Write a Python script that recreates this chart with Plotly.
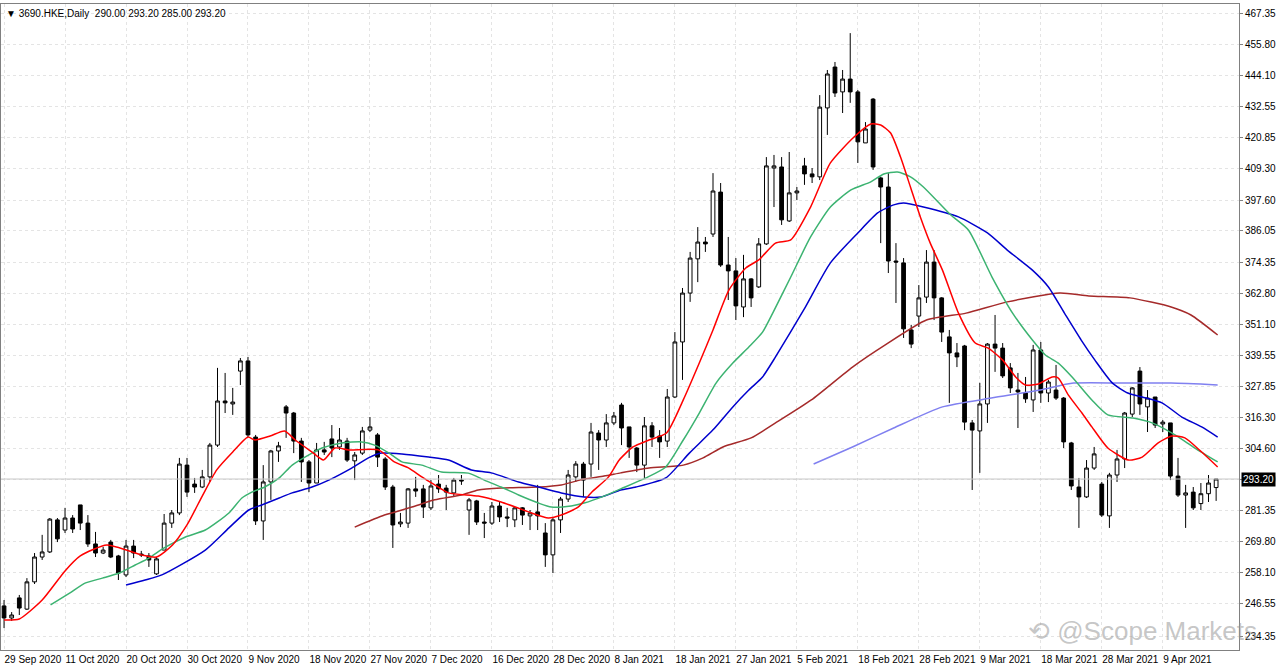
import plotly.graph_objects as go

# ---- OHLC data, bar index 0..159 ----
opens = [245.7,241.2,248.7,244.5,254.7,264.0,265.9,277.9,274.1,278.6,283.5,276.7,268.9,265.5,269.6,264.4,257.3,268.1,265.1,264.4,
         257.7,266.6,276.7,280.5,298.4,291.3,290.2,294.0,305.9,322.4,321.3,333.6,337.4,308.9,277.5,292.1,303.7,320.2,317.9,307.4,
         299.6,291.7,304.1,308.2,305.2,307.4,300.0,302.9,311.5,309.7,300.7,290.2,276.4,276.7,289.5,289.5,282.4,291.3,289.8,288.0,
         292.8,281.6,285.0,277.1,276.7,283.1,279.0,277.9,282.4,279.4,280.9,273.0,264.8,277.9,285.7,294.0,298.8,298.8,310.4,307.8,
         314.2,320.9,312.7,304.8,298.4,313.1,309.3,307.4,323.9,344.5,362.8,375.6,381.9,384.9,400.6,373.3,371.1,357.6,368.1,365.1,
         381.2,409.6,410.0,389.8,400.3,410.4,407.4,406.3,432.1,447.4,438.1,442.9,438.1,419.0,435.4,405.9,402.5,374.8,374.1,349.0,
         354.2,361.3,374.4,361.0,346.4,340.4,343.0,314.2,311.2,321.3,343.7,342.2,334.8,326.5,325.4,322.8,341.5,325.4,326.5,323.5,
         306.7,290.2,286.5,297.3,291.3,279.4,294.7,300.7,317.5,333.6,320.2,323.9,313.8,314.2,294.3,287.2,288.3,284.0,287.7,290.0]
highs = [247.9,243.4,249.8,256.1,265.5,272.3,278.6,278.6,282.4,279.7,283.5,279.7,273.4,267.8,270.4,264.8,270.4,270.4,266.3,265.5,
         264.0,280.1,281.6,301.1,301.1,293.6,296.6,306.7,334.8,332.9,327.3,338.5,338.9,309.7,298.4,304.1,307.1,320.9,318.3,308.6,
         300.3,306.7,307.1,313.4,312.3,308.6,303.3,312.7,316.4,310.4,301.4,291.0,280.5,289.8,294.0,291.0,292.8,294.7,291.0,293.6,
         294.7,286.1,285.4,280.5,284.6,284.6,282.4,282.7,282.7,281.6,291.0,276.7,278.6,286.5,296.6,299.9,299.6,314.2,311.5,317.5,
         318.3,321.7,312.7,305.2,316.4,314.5,311.5,326.9,348.2,364.7,378.2,387.5,383.8,407.7,404.0,383.8,375.9,377.1,368.4,383.4,
         413.7,414.5,413.7,415.6,402.5,413.4,409.6,436.9,446.3,449.3,446.3,460.1,438.8,426.8,435.8,406.3,407.7,381.5,375.9,350.9,
         365.8,378.9,378.9,361.3,349.0,344.1,343.4,315.3,329.2,344.1,354.6,344.1,336.6,332.9,331.4,343.4,344.5,330.3,335.9,323.9,
         307.1,293.6,300.3,305.2,292.1,295.5,304.1,318.3,327.6,335.1,326.5,323.9,315.3,314.2,301.1,291.0,290.2,291.7,294.7,293.2]
lows = [237.4,240.1,242.3,244.2,253.9,262.9,265.5,269.6,273.0,273.0,274.1,267.8,264.0,265.1,263.6,255.4,256.5,263.6,264.0,260.3,
        257.3,266.6,274.9,279.7,286.5,288.0,289.8,292.1,305.2,317.9,317.2,328.4,308.9,276.0,270.4,285.4,299.6,308.6,302.9,292.1,
        288.3,291.7,302.2,301.4,304.1,299.6,292.8,302.2,310.8,297.7,289.1,267.4,275.2,274.9,286.5,278.6,281.6,288.0,281.6,286.5,
        291.0,272.3,276.0,271.1,276.0,277.1,275.2,275.2,276.0,274.1,274.1,260.3,258.0,273.0,284.6,292.1,286.5,294.0,296.6,305.2,
        313.4,305.9,301.1,295.8,293.6,305.2,301.1,305.2,323.5,330.3,359.5,366.9,378.2,383.8,372.6,360.2,352.7,353.8,357.6,364.7,
        380.8,395.0,388.3,389.4,397.6,403.3,404.0,405.1,422.0,436.2,430.2,434.0,411.5,419.0,408.9,381.5,370.3,359.1,346.0,342.2,
        350.1,359.1,352.7,344.5,321.7,335.1,311.5,289.1,295.5,314.2,333.3,331.0,325.4,312.3,321.7,318.3,321.7,322.0,322.8,304.8,
        289.1,274.9,286.1,296.6,279.0,274.9,292.1,297.3,316.4,317.2,310.8,312.3,310.8,292.8,286.5,274.9,281.6,281.6,284.6,285.0]
closes = [241.2,242.3,244.9,254.7,264.0,265.9,278.2,270.8,278.6,274.5,276.7,268.9,265.5,266.6,264.0,258.0,268.1,265.5,264.8,262.9,
          263.3,276.7,280.5,298.8,288.3,290.2,294.0,305.9,322.4,321.7,322.0,337.4,309.7,277.5,292.1,303.7,305.6,317.9,307.4,299.6,
          291.7,304.1,303.3,304.8,307.8,300.3,302.2,311.2,312.7,301.4,290.2,276.0,277.1,289.5,288.7,282.7,290.6,289.5,288.3,292.8,
          292.5,285.4,277.1,276.7,283.1,279.0,278.6,282.4,279.7,280.5,279.4,264.8,277.9,285.7,294.7,298.8,292.8,310.8,307.8,314.2,
          316.8,312.3,305.2,298.4,313.1,308.9,307.1,323.9,344.5,362.8,375.9,381.9,381.2,401.0,373.3,371.1,358.0,368.1,361.0,381.2,
          410.4,410.4,390.2,400.3,401.0,407.4,406.3,432.4,444.8,437.7,442.9,438.1,419.4,424.2,410.0,402.5,374.8,374.4,349.4,343.7,
          361.0,374.4,361.0,348.2,340.4,338.9,314.5,311.5,321.3,343.7,342.2,331.8,327.3,325.8,323.2,341.5,325.4,329.5,323.5,307.1,
          290.6,286.5,297.3,302.6,279.7,294.7,300.7,317.9,327.3,321.3,323.5,313.4,314.5,294.3,287.2,288.0,282.4,287.7,291.7,293.2]

# ---- moving averages: bar position, price ----
red_x = [0,2.0,5.0,8.0,10.0,13.5,18.0,20.0,22.1,24.0,26.0,27.9,30.0,32.0,32.9,34.9,36.8,38.2,40.4,41.9,43.4,45.2,49.1,51.2,53.1,54.8,
         56.5,58.3,62.2,65.2,68.8,71.4,73.1,75.3,77.0,79.3,80.7,82.5,84.6,86.9,89.1,91.2,93.0,95.1,97.3,99.0,101.2,103.2,105.8,108.4,
         111.5,113.7,115.0,116.3,117.6,118.9,120.2,121.5,123.1,125.2,127.4,129.1,131.0,132.7,134.0,135.7,137.5,138.3,139.6,141.4,
         142.7,144.8,147.5,149.3,151.4,153.2,154.9,157.1,159.2]
red_y = [240.4,240.8,247.9,258.8,264.4,268.5,264.8,264.0,268.5,276.0,286.8,296.6,303.3,308.9,307.8,309.3,311.2,307.8,303.3,300.3,304.8,
         304.1,304.1,299.6,297.3,294.0,291.0,288.0,286.8,284.6,280.9,278.6,279.7,282.7,288.0,294.0,300.3,305.2,307.8,310.4,322.8,336.6,
         349.0,364.0,372.2,375.2,381.5,382.7,395.0,411.5,421.2,426.1,425.7,422.7,413.7,402.5,391.3,381.5,371.4,355.3,344.1,342.2,337.7,
         331.4,328.4,328.8,331.4,331.0,324.7,317.9,312.7,304.8,300.3,301.4,306.7,309.3,308.6,303.3,297.7]
green_x = [6.1,8.6,10.7,12.9,15.1,17.2,19.0,21.0,23.8,26.4,29.5,31.2,32.5,34.2,36.1,37.8,40.4,41.7,44.3,46.9,48.6,50.5,52.2,54.8,57.4,
           60.9,63.0,65.2,67.5,70.1,71.8,74.4,76.1,78.7,80.9,84.2,86.8,89.1,91.2,93.4,95.6,97.7,99.5,100.9,103.2,105.8,108.4,111.1,
           113.7,115.4,117.2,118.9,120.6,124.2,126.5,129.6,132.3,134.9,136.6,138.3,140.1,142.7,144.8,148.1,150.6,153.6,156.2,159.2]
green_y = [246.1,250.5,254.3,256.1,258.0,261.0,263.6,267.4,271.5,274.1,280.5,286.1,288.3,290.2,293.6,298.4,302.9,304.8,306.7,307.1,305.9,
           302.9,299.6,298.4,295.8,295.4,292.8,290.2,287.2,284.2,282.7,283.1,284.2,286.8,289.5,293.6,297.7,307.8,317.9,329.1,336.6,342.6,
           348.2,355.7,368.8,383.8,395.0,401.4,404.4,407.4,408.1,406.3,402.5,392.0,386.4,368.8,355.3,345.2,339.6,336.6,331.4,322.8,317.2,
           316.0,314.2,309.7,304.8,299.6]
blue_x = [16.0,18.5,20.7,26.4,29.5,32.1,33.8,36.1,37.8,40.4,42.6,45.6,47.8,49.5,52.2,55.7,58.3,61.3,63.9,67.5,70.1,73.1,76.1,78.3,80.9,
          82.9,86.8,89.9,93.0,95.6,97.7,99.5,101.2,104.9,108.4,112.0,114.6,116.7,118.0,120.6,125.2,129.0,131.6,134.9,137.0,139.1,141.3,
          143.1,145.4,147.4,149.3,151.9,154.5,157.1,159.2]
blue_y = [253.5,255.4,257.3,266.6,274.9,281.6,283.5,286.1,288.0,290.2,292.8,297.3,301.1,302.9,302.6,301.4,300.3,296.6,295.5,292.1,290.2,
          288.0,286.5,286.5,289.1,290.2,293.6,302.9,311.6,320.2,326.5,331.4,338.9,356.5,374.1,385.3,392.8,395.8,396.5,395.0,391.3,385.3,
          378.9,371.4,365.1,355.3,345.2,337.7,329.1,325.4,323.9,321.7,316.4,312.7,308.9]
brown_x = [46.0,49.9,53.5,56.5,60.0,62.2,65.2,70.1,73.1,76.1,78.7,80.9,84.6,89.1,91.7,94.3,98.0,101.2,105.9,111.3,115.6,121.0,126.2,
           131.6,138.5,142.3,147.7,153.1,155.7,159.2]
brown_y = [275.2,279.7,282.7,285.4,287.2,289.1,289.8,290.2,291.0,293.2,294.3,295.5,297.3,298.4,301.1,305.2,308.6,314.2,322.8,335.1,343.4,
           352.7,355.3,359.5,362.8,361.7,361.0,357.6,354.6,347.1]
purple_x = [106.2,111.3,116.7,123.1,129.5,135.9,140.3,147.7,153.1,159.2]
purple_y = [298.8,305.2,312.3,320.2,323.5,326.5,329.1,329.1,329.1,328.4]

tick_pos = [0,8,16,24,32,40,48,56,64,72,80,88,96,104,112,120,128,136,144,152]
tick_text = ["29 Sep 2020","11 Oct 2020","20 Oct 2020","30 Oct 2020","9 Nov 2020","18 Nov 2020","27 Nov 2020",
             "7 Dec 2020","16 Dec 2020","28 Dec 2020","8 Jan 2021","18 Jan 2021","27 Jan 2021","5 Feb 2021",
             "18 Feb 2021","28 Feb 2021","9 Mar 2021","18 Mar 2021","28 Mar 2021","9 Apr 2021"]
price_ticks = [234.35,246.55,258.10,269.80,281.35,293.20,304.60,316.30,327.85,339.55,351.10,362.80,374.35,
               386.05,397.60,409.30,420.85,432.55,444.10,455.80,467.35]
last_price = 293.20

bars = list(range(len(closes)))
fig = go.Figure()
fig.add_hline(y=last_price, line=dict(color="#c8c8c8", width=1))
fig.add_trace(go.Candlestick(
    x=bars, open=opens, high=highs, low=lows, close=closes,
    increasing=dict(line=dict(color="black", width=1), fillcolor="white"),
    decreasing=dict(line=dict(color="black", width=1), fillcolor="black"),
    whiskerwidth=0, showlegend=False, hoverinfo="skip"))
for xs, ys, col in [(purple_x, purple_y, "#8080f0"), (brown_x, brown_y, "#a52a2a"),
                    (blue_x, blue_y, "#0000cd"), (green_x, green_y, "#3cb371"),
                    (red_x, red_y, "#ff0000")]:
    fig.add_trace(go.Scatter(x=xs, y=ys, mode="lines", line=dict(color=col, width=1.5, shape="spline", smoothing=0.6),
                             showlegend=False, hoverinfo="skip"))

fig.update_layout(
    width=1280, height=668, margin=dict(l=1, r=41, t=4, b=18, autoexpand=False),
    paper_bgcolor="white", plot_bgcolor="white",
    font=dict(family="Liberation Sans", size=10, color="black"),
    xaxis=dict(range=[-0.4, 162.0], rangeslider=dict(visible=False), tickvals=tick_pos, ticktext=tick_text,
               ticklabelposition="outside right", tickangle=0, showgrid=True, gridcolor="#e4e4e4", griddash="dot",
               showline=True, linecolor="#808080", mirror=True, ticks="", zeroline=False, automargin=False,
               tickfont=dict(size=10)),
    yaxis=dict(range=[229.2, 471.0], side="right", tickvals=price_ticks, automargin=False,
               ticktext=[f"{v:.2f}" for v in price_ticks], showgrid=True, gridcolor="#e4e4e4", griddash="dot",
               showline=True, linecolor="#808080", mirror=True, ticks="outside", ticklen=3, tickcolor="#808080",
               zeroline=False, tickfont=dict(size=10)),
)
fig.add_annotation(x=1, xref="paper", y=last_price, yref="y", text=f"{last_price:.2f}", showarrow=False,
                   xanchor="left", xshift=2, bgcolor="black", font=dict(color="white", size=10), borderpad=1)
fig.add_annotation(x=0, xref="paper", y=1, yref="paper", text="▼ 3690.HKE,Daily  290.00 293.20 285.00 293.20",
                   showarrow=False, xanchor="left", yanchor="top", xshift=3, yshift=-2, font=dict(size=10))
fig.add_annotation(x=1, xref="paper", y=0, yref="paper", text="⟲ @Scope Markets", showarrow=False,
                   xanchor="right", yanchor="bottom", xshift=20, yshift=2, font=dict(size=26, color="rgba(150,150,150,0.55)"))
fig.write_html("out.html", config={"displayModeBar": False},
               post_script="document.body.style.margin='0px';document.body.style.overflow='hidden';")
